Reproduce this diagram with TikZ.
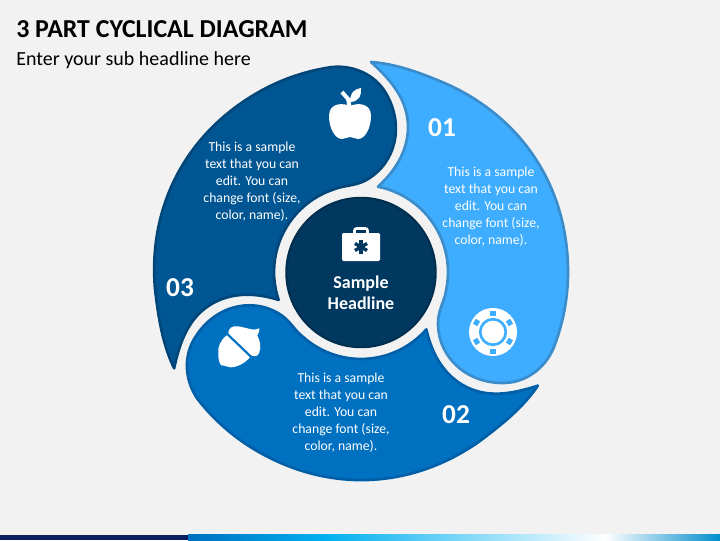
\documentclass[tikz,border=0pt]{standalone}
\usepackage{fontspec}
\setmainfont{Carlito}
\definecolor{pagebg}{HTML}{F2F2F2}
\definecolor{lightblue}{HTML}{3FADFF}
\definecolor{lightedge}{HTML}{3A8CCB}
\definecolor{midblue}{HTML}{0070C0}
\definecolor{midedge}{HTML}{005FA6}
\definecolor{deepblue}{HTML}{005692}
\definecolor{deepedge}{HTML}{004679}
\definecolor{hubblue}{HTML}{00385F}
\definecolor{hubedge}{HTML}{002E4F}
\definecolor{barnavy}{HTML}{0A2060}
\definecolor{barcyan}{HTML}{00B0F0}
\tikzstyle{bodytext} = [text=white, align=center, font=\fontsize{10.3}{12.8}\selectfont]
\tikzstyle{numtext} = [text=white, font=\fontsize{20.5}{24}\bfseries\selectfont]
\tikzstyle{icon} = [fill=white, draw=none]
\newcommand{\petalpath}{(10,210) .. controls (37,208) and (62.5,198) .. (88,187) .. controls (163.2,151.9) and (207,83) .. (207,0) arc (0:-22:207) .. controls (183.5,-96) and (165,-111) .. (142,-111) .. controls (105,-111) and (77,-85) .. (77,-51) .. controls (77,-38) and (84,-28) .. (85.1,-18.1) arc (-12:78.7:87) .. controls (33,100) and (47,120) .. (47,145) .. controls (47,172) and (30,192) .. (10,210) -- cycle}
\begin{document}
\begin{tikzpicture}[x=.75pt,y=.75pt]
	\fill[pagebg] (0,0) rectangle (720,540);
	\useasboundingbox (0,0) rectangle (720,540);
	% bottom bar
	\fill[barnavy] (0,0) rectangle (188,5.5);
	\shade[left color=midblue, right color=barcyan] (188,0) rectangle (325,5.5);
	\shade[left color=barcyan, right color=white] (325,0) rectangle (605,5.5);
	\shade[left color=white, right color=midblue!80!cyan] (605,0) rectangle (720,5.5);
	% headings
	\node[anchor=west, inner sep=0pt, font=\fontsize{19.4}{22}\bfseries\selectfont] (title) at (16,511) {3 PART CYCLICAL DIAGRAM};
	\node[anchor=west, inner sep=0pt, font=\fontsize{15}{18}\selectfont] (subtitle) at (16,480) {Enter your sub headline here};
	% the three petals
	\foreach \ang/\fillc/\edgec in {0/lightblue/lightedge, -120/midblue/midedge, -240/deepblue/deepedge} {
		\begin{scope}[shift={(361,268)}, rotate=\ang]
			\draw[fill=\fillc, draw=\edgec, line width=2pt, line join=round] \petalpath;
		\end{scope}
	}
	% hub
	\node[circle, fill=hubblue, draw=hubedge, line width=1.6pt, minimum size=112pt, inner sep=0pt] (hub) at (361,267.5) {};
	\node[text=white, align=center, font=\fontsize{13.5}{15.8}\bfseries\selectfont] (hubtext) at (361,247) {Sample\\Headline};
	% labels
	\node[numtext] (num01) at (442,412) {01};
	\node[numtext] (num02) at (456,125.5) {02};
	\node[numtext] (num03) at (180,252.5) {03};
	\node[bodytext] (text01) at (491,333) {This is a sample\\text that you can\\edit. You can\\change font (size,\\color, name).};
	\node[bodytext] (text02) at (341,127) {This is a sample\\text that you can\\edit. You can\\change font (size,\\color, name).};
	\node[bodytext] (text03) at (252,358) {This is a sample\\text that you can\\edit. You can\\change font (size,\\color, name).};
	% apple
	\begin{scope}[shift={(350,420)}]
		\fill[icon] (0,14) .. controls (-6,17) and (-21,18) .. (-21,4) .. controls (-21,-8) and (-15,-19) .. (-8,-19) .. controls (-5,-19) and (-3,-17) .. (0,-17) .. controls (3,-17) and (5,-19) .. (8,-19) .. controls (15,-19) and (21,-8) .. (21,4) .. controls (21,18) and (6,17) .. (0,14) -- cycle;
		\draw[white, line width=3pt] (-8,28) -- (-2,21) -- (-.5,14);
		\fill[icon] (0,18) .. controls (0,28) and (5,31) .. (11,32) .. controls (12,25) and (9,18) .. (0,18) -- cycle;
	\end{scope}
	% poker chip
	\begin{scope}[shift={(493,208)}]
		\fill[icon] (0,0) circle (24);
		\draw[lightblue, line width=2pt] (0,0) circle (12.8);
		\foreach \a in {30,90,150,210,270,330} {
			\fill[lightblue, rotate=\a] (16.5,-2.8) rectangle (21.5,2.8);
		}
	\end{scope}
	% acorn
	\begin{scope}[shift={(238.3,191.7)}]
		\fill[icon] (-10,15) .. controls (-10,20) and (-6,23) .. (0,22) .. controls (5,21) and (9,20) .. (13,19) .. controls (16,18) and (18,19) .. (21,20) .. controls (22,18) and (20,15) .. (19,13) .. controls (22,7) and (23,1) .. (21,-4) .. controls (20,-8) and (16,-9) .. (13,-7) -- cycle;
		\fill[icon] (-11.5,13) .. controls (-18,8) and (-21,1) .. (-20,-6) .. controls (-20,-11) and (-19,-15) .. (-17,-17) .. controls (-13,-17) and (-11,-19) .. (-7,-19) .. controls (-2,-19) and (7,-15) .. (11.5,-9) -- cycle;
	\end{scope}
	% briefcase
	\begin{scope}[shift={(361,293)}]
		\draw[white, line width=1.9pt, rounded corners=1.5pt] (-6.5,12) -- (-6.5,18.5) -- (6.5,18.5) -- (6.5,12);
		\fill[icon, rounded corners=1pt] (-19,-14) rectangle (19,14);
		\foreach \a in {90,30,-30} {
			\draw[hubblue, line width=2.5pt, rotate=\a] (-7,0) -- (7,0);
		}
	\end{scope}
\end{tikzpicture}
\end{document}
